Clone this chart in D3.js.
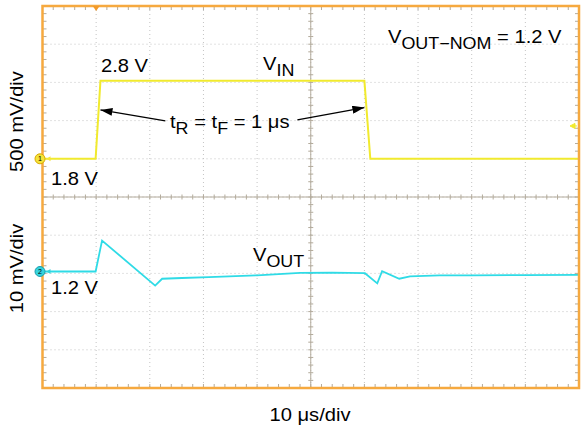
<!DOCTYPE html>
<html>
<head>
<meta charset="utf-8">
<script src="https://cdn.jsdelivr.net/npm/d3@7"></script>
<style>
  body { margin: 0; background: #fff; }
  svg { display: block; }
  text { font-family: "Liberation Sans", Arial, Helvetica, sans-serif; fill: #000; }
</style>
</head>
<body>
<svg width="585" height="428"></svg>
<script>
// time in microseconds (trigger at 0), 10 us/div
var vinTime  = [-10, -0.1, 0.8, 50.0, 51.1, 90];
var vinVolts = [1.8, 1.8, 2.82, 2.82, 1.8, 1.8];

// VOUT deviation from 1.2 V, in mV
var voutTime = [-10, -0.1, 1.1, 11.0, 12.3, 16, 21, 30, 38, 44, 50.1, 52.4, 53.3, 56.5, 58.5, 64, 70, 80, 90];
var voutMv   = [0, 0, 8.1, -3.7, -1.9, -1.7, -1.5, -1.0, -0.35, -0.3, -0.45, -3.1, 0.1, -1.9, -1.3, -1.0, -1.0, -0.95, -0.9];

var timeDomain = [-10, 90];
var ch1Domain = [-1.2, 3.8];   // volts, 500 mV/div
var ch2Domain = [-30.5, 69.5]; // mV around 1.2 V, 10 mV/div
var trigLevel = 2.23;          // V

var svg = d3.select("svg"),
    margin = {top: 6, right: 6, bottom: 40, left: 42.5},
    width = 585 - margin.left - margin.right,
    height = 428 - margin.top - margin.bottom,
    chart = svg.append("g").attr("transform", "translate(" + margin.left + "," + margin.top + ")");

var xScale = d3.scaleLinear().domain(timeDomain).range([0, width]);
var divScale = d3.scaleLinear().domain([0, 10]).range([0, height]);
var y1 = d3.scaleLinear().domain(ch1Domain).range([height, 0]);
var y2 = d3.scaleLinear().domain(ch2Domain).range([height, 0]);

var majors = d3.range(1, 10);
var minors = d3.range(0, 10.01, 0.2);

// dotted graticule
chart.selectAll(".vgrid").data(majors).enter().append("line")
  .attr("x1", function(d) { return d * width / 10; })
  .attr("x2", function(d) { return d * width / 10; })
  .attr("y1", 0).attr("y2", height)
  .attr("stroke", "#c4c4c4").attr("stroke-dasharray", "1 3");
chart.selectAll(".hgrid").data(majors).enter().append("line")
  .attr("y1", function(d) { return divScale(d); })
  .attr("y2", function(d) { return divScale(d); })
  .attr("x1", 0).attr("x2", width)
  .attr("stroke", "#c4c4c4").attr("stroke-dasharray", "1 3");

// centre cross
var crossColor = "#b3ab9c";
chart.append("line").attr("x1", width / 2).attr("x2", width / 2).attr("y1", 0).attr("y2", height)
  .attr("stroke", crossColor);
chart.append("line").attr("y1", divScale(5)).attr("y2", divScale(5)).attr("x1", 0).attr("x2", width)
  .attr("stroke", crossColor);

// minor ticks on cross and frame
minors.forEach(function(m) {
  var px = m * width / 10, py = divScale(m);
  chart.append("line").attr("x1", px).attr("x2", px).attr("y1", divScale(5) - 2.5).attr("y2", divScale(5) + 2.5).attr("stroke", crossColor);
  chart.append("line").attr("y1", py).attr("y2", py).attr("x1", width / 2 - 2.5).attr("x2", width / 2 + 2.5).attr("stroke", crossColor);
  chart.append("line").attr("x1", px).attr("x2", px).attr("y1", 0).attr("y2", 4).attr("stroke", crossColor);
  chart.append("line").attr("x1", px).attr("x2", px).attr("y1", height - 4).attr("y2", height).attr("stroke", crossColor);
  chart.append("line").attr("y1", py).attr("y2", py).attr("x1", 0).attr("x2", 4).attr("stroke", crossColor);
  chart.append("line").attr("y1", py).attr("y2", py).attr("x1", width - 4).attr("x2", width).attr("stroke", crossColor);
});

// traces
var vinLine = d3.line()
  .x(function(d, i) { return xScale(vinTime[i]); })
  .y(function(d) { return y1(d); });
chart.append("path").attr("d", vinLine(vinVolts))
  .attr("fill", "none").attr("stroke", "#f1ea2e").attr("stroke-width", 2);

var voutLine = d3.line()
  .x(function(d, i) { return xScale(voutTime[i]); })
  .y(function(d) { return y2(d); });
chart.append("path").attr("d", voutLine(voutMv))
  .attr("fill", "none").attr("stroke", "#2fdbe6").attr("stroke-width", 1.8);

// frame
chart.append("rect").attr("x", 0).attr("y", 0).attr("width", width).attr("height", height)
  .attr("fill", "none").attr("stroke", "#f6a93f").attr("stroke-width", 2.5);

// trigger markers
chart.append("path")
  .attr("d", "M" + (xScale(0) - 3.5) + ",0 L" + (xScale(0) + 3.5) + ",0 L" + xScale(0) + ",5 Z")
  .attr("fill", "#f29a2a");
chart.append("path")
  .attr("d", "M" + (width - 9) + "," + y1(trigLevel) + " l5,-2.5 l0,5 Z M" + (width - 5) + "," + y1(trigLevel) + " l3,0")
  .attr("fill", "#f1ea2e").attr("stroke", "#f1ea2e");

// channel markers
function chanMarker(yPos, fill, stroke, label) {
  chart.append("path").attr("d", "M4," + yPos + " l4,-2.5 l0,5 Z").attr("fill", fill);
  chart.append("circle").attr("cx", -2.5).attr("cy", yPos).attr("r", 5)
    .attr("fill", fill).attr("stroke", stroke).attr("stroke-width", 1);
  chart.append("text").attr("x", -2.5).attr("y", yPos + 2.5).attr("text-anchor", "middle")
    .style("font-size", "7px").text(label);
}
chanMarker(y1(1.8), "#f4e43a", "#d9a800", "1");
chanMarker(y2(0), "#35d3dc", "#1a9fb0", "2");

// annotation arrows
svg.append("defs").append("marker")
  .attr("id", "head").attr("viewBox", "0 0 12 8").attr("refX", 12).attr("refY", 4)
  .attr("markerWidth", 12).attr("markerHeight", 8).attr("markerUnits", "userSpaceOnUse")
  .attr("orient", "auto")
  .append("path").attr("d", "M0,0 L12,4 L0,8 Z").attr("fill", "#000");

var arrowFrom = [[12.9, 2.295], [37.5, 2.31]];
var arrowTo   = [[0.8, 2.44], [50.0, 2.47]];
arrowFrom.forEach(function(f, i) {
  chart.append("line")
    .attr("x1", xScale(f[0])).attr("y1", y1(f[1]))
    .attr("x2", xScale(arrowTo[i][0])).attr("y2", y1(arrowTo[i][1]))
    .attr("stroke", "#000").attr("stroke-width", 1.3).attr("marker-end", "url(#head)");
});

// text labels: parts are [string, isSubscript]
var sx = 1.12;
function label(x, y, parts, rotate, anchor) {
  var t = svg.append("text")
    .attr("transform", "translate(" + x + "," + y + ")" + (rotate ? " rotate(-90)" : "") + " scale(" + sx + ",1)")
    .attr("text-anchor", anchor || "start")
    .style("font-size", "18px");
  var down = false;
  parts.forEach(function(p) {
    var s = t.append("tspan").text(p[0]);
    if (p[1] && !down) { s.attr("dy", 5.5).style("font-size", "16px"); down = true; }
    else if (p[1]) { s.style("font-size", "16px"); }
    else if (down) { s.attr("dy", -5.5); down = false; }
  });
}

label(388, 43, [["V"], ["OUT\u2212NOM", 1], [" = 1.2 V"]]);
label(101, 72, [["2.8 V"]]);
label(263, 70, [["V"], ["IN", 1]]);
label(170, 128, [["t"], ["R", 1], [" = t"], ["F", 1], [" = 1 \u03bcs"]]);
label(51, 185, [["1.8 V"]]);
label(253, 261, [["V"], ["OUT", 1]]);
label(51, 294, [["1.2 V"]]);
label(23, 121.5, [["500 mV/div"]], true, "middle");
label(23, 268.5, [["10 mV/div"]], true, "middle");
label(310, 421, [["10 \u03bcs/div"]], false, "middle");
</script>
</body>
</html>
